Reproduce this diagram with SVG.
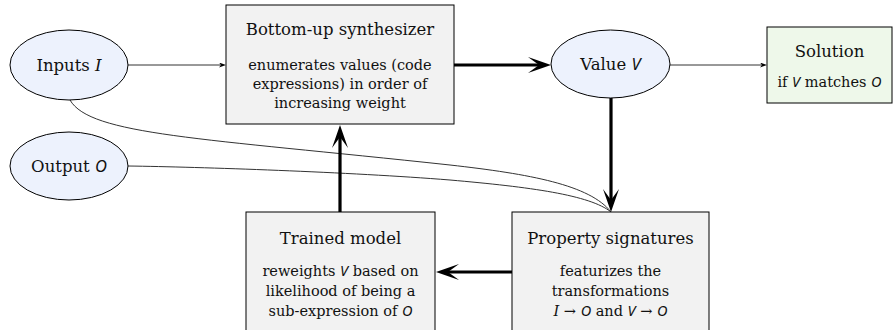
<svg xmlns="http://www.w3.org/2000/svg" width="894" height="330" viewBox="0 0 894 330">
  <style>
    .bg { fill: #ffffff; }
    .ell { fill: #edf2fd; stroke: #000; stroke-width: 1; }
    .box { fill: #f2f2f2; stroke: #000; stroke-width: 1; }
    .sol { fill: #eef8ea; stroke: #000; stroke-width: 1; }
    text { font-family: "DejaVu Serif", "Liberation Serif", serif; fill: #111; text-anchor: middle; }
    .title { font-size: 16.5px; }
    .body { font-size: 14.5px; }
    .mi { font-family: "DejaVu Serif", serif; font-style: italic; }
    .ms { font-family: "Noto Sans", "DejaVu Sans", sans-serif; font-style: italic; }
    .thin { fill: none; stroke: #333; stroke-width: 1; }
    .thick { fill: none; stroke: #000; stroke-width: 3.2; }
  </style>
  <defs>
    <marker id="vee" markerUnits="userSpaceOnUse" markerWidth="24" markerHeight="18" viewBox="0 0 24 18" refX="11" refY="8" orient="auto">
      <path d="M23,8 L0,0 L11,8 L0,16 Z" fill="#000"/>
    </marker>
    <marker id="tip" markerUnits="userSpaceOnUse" markerWidth="8" markerHeight="6" viewBox="0 0 8 6" refX="2" refY="2.5" orient="auto">
      <path d="M7,2.5 L0,0 L2,2.5 L0,5 Z" fill="#000"/>
    </marker>
  </defs>
  <rect class="bg" x="0" y="0" width="894" height="330"/>

  <g id="connectors">
    <line class="thin" x1="128" y1="65" x2="221" y2="65" marker-end="url(#tip)"/>
    <line class="thin" x1="670" y1="65" x2="762" y2="65" marker-end="url(#tip)"/>
    <path class="thin" d="M70,100 C90,135 200,138 450,165 C530,174 590,185 611,212"/>
    <path class="thin" d="M128,166 C200,167 350,172 450,180 C530,187 590,195 611,212"/>
    <line class="thick" x1="454" y1="65" x2="539" y2="65" marker-end="url(#vee)"/>
    <line class="thick" x1="611" y1="98" x2="611" y2="200" marker-end="url(#vee)"/>
    <line class="thick" x1="512" y1="272" x2="448" y2="272" marker-end="url(#vee)"/>
    <line class="thick" x1="340" y1="212" x2="340" y2="137" marker-end="url(#vee)"/>
  </g>

  <g id="inputs">
    <ellipse class="ell" cx="69" cy="65" rx="59" ry="35"/>
    <text class="title" x="69" y="71">Inputs <tspan class="mi">I</tspan></text>
  </g>

  <g id="output">
    <ellipse class="ell" cx="69" cy="166" rx="59" ry="34"/>
    <text class="title" x="69" y="172">Output <tspan class="ms">O</tspan></text>
  </g>

  <g id="synthesizer">
    <rect class="box" x="226" y="5" width="228" height="119"/>
    <text class="title" x="340" y="35">Bottom-up synthesizer</text>
    <text class="body" x="340" y="70">enumerates values (code</text>
    <text class="body" x="340" y="89">expressions) in order of</text>
    <text class="body" x="340" y="108">increasing weight</text>
  </g>

  <g id="value">
    <ellipse class="ell" cx="610.5" cy="64" rx="59.5" ry="34"/>
    <text class="title" x="610.5" y="70">Value <tspan class="ms">V</tspan></text>
  </g>

  <g id="solution">
    <rect class="sol" x="767" y="27" width="125" height="76"/>
    <text class="title" x="829.5" y="57">Solution</text>
    <text class="body" x="829.5" y="87">if <tspan class="ms">V</tspan> matches <tspan class="ms">O</tspan></text>
  </g>

  <g id="model">
    <rect class="box" x="246" y="212" width="189" height="130"/>
    <text class="title" x="340.5" y="244">Trained model</text>
    <text class="body" x="340.5" y="276">reweights <tspan class="ms">V</tspan> based on</text>
    <text class="body" x="340.5" y="296">likelihood of being a</text>
    <text class="body" x="340.5" y="316">sub-expression of <tspan class="ms">O</tspan></text>
  </g>

  <g id="signatures">
    <rect class="box" x="512" y="212" width="197" height="130"/>
    <text class="title" x="610.5" y="244">Property signatures</text>
    <text class="body" x="610.5" y="276">featurizes the</text>
    <text class="body" x="610.5" y="296">transformations</text>
    <text class="body" x="610.5" y="316"><tspan class="mi">I</tspan> → <tspan class="ms">O</tspan> and <tspan class="ms">V</tspan> → <tspan class="ms">O</tspan></text>
  </g>
</svg>
